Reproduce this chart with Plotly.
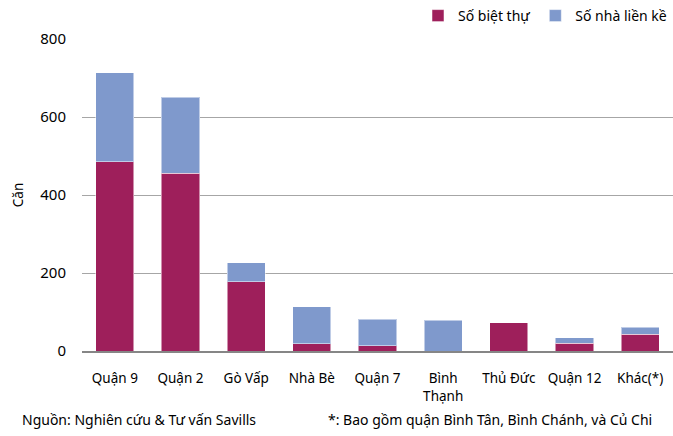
import plotly.graph_objects as go

# du lieu doc tu bieu do
categories = ["Quận 9", "Quận 2", "Gò Vấp", "Nhà Bè", "Quận 7",
              "Bình<br>Thạnh", "Thủ Đức", "Quận 12", "Khác(*)"]
biet_thu = [485, 456, 177, 19, 13, 0, 72, 20, 43]
lien_ke = [228, 195, 49, 94, 68, 79, 0, 14, 18]

PURPLE = "#9E1F5B"
BLUE = "#7F99CC"
FONT = "Noto Sans"

fig = go.Figure()
fig.add_trace(go.Bar(x=categories, y=biet_thu, name="Số biệt thự",
                     marker=dict(color=PURPLE, line=dict(color="rgba(255,255,255,0.5)", width=1))))
fig.add_trace(go.Bar(x=categories, y=lien_ke, name="Số nhà liền kề",
                     marker=dict(color=BLUE, line=dict(color="rgba(255,255,255,0.5)", width=1))))

fig.update_layout(
    barmode="stack",
    bargap=0.42,
    width=673, height=436,
    margin=dict(l=82, r=0, t=39, b=85, autoexpand=False),
    paper_bgcolor="white",
    plot_bgcolor="white",
    font=dict(family=FONT, size=13.5, color="#000000"),
    legend=dict(orientation="h", x=(418 - 82) / 591, xanchor="left", y=1.0, yanchor="top",
                yref="container", font=dict(size=14), traceorder="normal",
                itemwidth=30, bgcolor="rgba(0,0,0,0)"),
)

fig.update_yaxes(range=[0, 800], dtick=200, showgrid=True, gridcolor="#A6A6A6",
                 gridwidth=1, zeroline=False, showline=False, ticks="",
                 ticklabelstandoff=15, tickfont=dict(size=15),
                 title=dict(text="Căn", font=dict(size=13.5), standoff=13))
fig.update_xaxes(showline=True, linecolor="#868686", linewidth=2, ticks="",
                 ticklabelstandoff=14, tickfont=dict(size=13.5))

fig.add_annotation(text="Nguồn: Nghiên cứu & Tư vấn Savills", xref="paper", yref="paper",
                   x=-62 / 591, y=-68 / 312, xanchor="left", yanchor="middle",
                   showarrow=False, font=dict(size=14))
fig.add_annotation(text="*: Bao gồm quận Bình Tân, Bình Chánh, và Củ Chi", xref="paper", yref="paper",
                   x=(326 - 82) / 591, y=-68 / 312, xanchor="left", yanchor="middle",
                   showarrow=False, font=dict(size=14))

# bo margin mac dinh cua trang
fig.write_html("out.html", config=dict(displayModeBar=False),
               post_script="document.body.style.margin='0';")
